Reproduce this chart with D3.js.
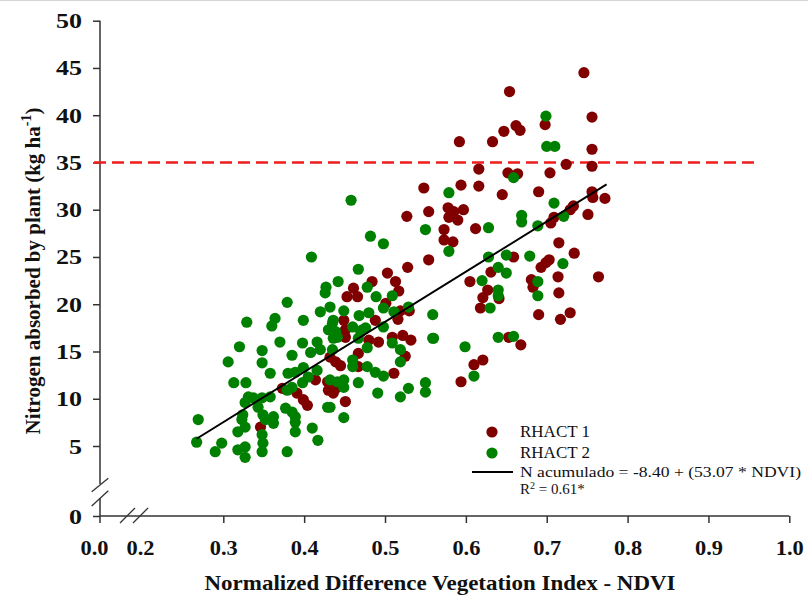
<!DOCTYPE html>
<html><head><meta charset="utf-8">
<script src="https://cdn.jsdelivr.net/npm/d3@7"></script>
<style>body{margin:0;background:#fff}svg{display:block}</style>
</head><body>
<svg id="c" width="808" height="595"></svg>
<script>
// ---- data ----
const rhact1NDVI = [0.746,0.654,0.756,0.698,0.662,0.667,0.647,0.592,0.633,0.756,0.724,0.756,0.616,0.652,0.664,0.704,0.594,0.616,0.645,0.690,0.756,0.757,0.772,0.733,0.729,0.597,0.585,0.590,0.751,0.709,0.705,0.612,0.548,0.554,0.578,0.579,0.573,0.573,0.584,0.554,0.659,0.631,0.693,0.703,0.699,0.734,0.715,0.764,0.605,0.627,0.621,0.618,0.641,0.681,0.683,0.714,0.715,0.690,0.717,0.729,0.653,0.668,0.621,0.610,0.594,0.528,0.503,0.484,0.513,0.517,0.461,0.453,0.466,0.501,0.530,0.519,0.449,0.488,0.516,0.451,0.480,0.492,0.509,0.522,0.532,0.467,0.525,0.439,0.445,0.432,0.511,0.439,0.436,0.451,0.527,0.451,0.414,0.429,0.430,0.373,0.391,0.399,0.404,0.346,0.467];
const rhact1N = [44.5,42.5,39.8,39.0,38.9,38.4,38.3,37.2,37.2,36.4,34.8,34.6,34.3,33.9,33.8,33.9,32.6,32.5,31.6,31.9,31.9,31.3,31.2,30.4,30.0,30.0,29.8,28.9,29.5,29.2,28.6,28.0,32.3,29.8,30.2,29.2,27.9,26.8,26.6,24.7,25.0,23.4,23.9,24.7,24.4,25.4,26.5,22.9,22.4,21.5,20.7,19.6,20.6,22.6,21.8,22.9,21.2,18.9,18.4,19.1,16.5,15.7,14.1,13.6,11.8,23.9,23.3,22.4,22.4,21.4,21.7,20.8,20.8,20.1,19.3,19.3,18.3,18.3,18.4,16.5,16.2,16.0,16.5,16.7,16.2,14.8,14.5,13.9,13.5,14.4,12.7,11.1,10.6,9.7,29.3,17.3,12.0,11.8,10.9,11.1,10.6,9.9,9.3,7.0,13.4];
const rhact2NDVI = [0.699,0.700,0.710,0.659,0.579,0.709,0.669,0.669,0.721,0.689,0.628,0.550,0.579,0.628,0.650,0.640,0.650,0.679,0.720,0.620,0.640,0.640,0.630,0.689,0.689,0.559,0.559,0.599,0.640,0.659,0.610,0.458,0.482,0.498,0.409,0.467,0.427,0.426,0.442,0.478,0.489,0.509,0.379,0.498,0.511,0.529,0.449,0.432,0.436,0.468,0.480,0.460,0.476,0.498,0.439,0.436,0.472,0.467,0.509,0.560,0.478,0.519,0.519,0.460,0.460,0.478,0.488,0.498,0.432,0.441,0.449,0.449,0.467,0.550,0.550,0.529,0.491,0.519,0.432,0.449,0.329,0.364,0.360,0.399,0.420,0.435,0.430,0.370,0.320,0.348,0.348,0.398,0.416,0.420,0.408,0.385,0.435,0.306,0.358,0.380,0.389,0.399,0.405,0.398,0.416,0.313,0.328,0.379,0.385,0.331,0.337,0.327,0.348,0.358,0.343,0.429,0.377,0.385,0.324,0.323,0.349,0.352,0.362,0.362,0.389,0.389,0.269,0.327,0.318,0.348,0.349,0.389,0.410,0.417,0.267,0.298,0.290,0.318,0.327,0.327,0.348,0.379,0.441,0.470];
const rhact2N = [39.9,36.7,36.7,33.4,31.8,30.7,29.4,28.7,29.3,28.3,28.1,27.9,25.6,25.0,25.2,23.9,23.3,25.1,24.3,22.5,21.5,20.9,19.6,22.4,20.9,18.9,16.4,15.5,16.5,16.6,12.4,31.0,27.2,26.4,25.0,23.7,21.8,21.2,22.4,21.8,20.8,20.9,20.2,19.6,19.2,19.7,19.3,19.7,18.3,18.8,19.1,17.6,17.5,17.6,17.1,16.4,17.3,16.4,15.9,16.4,15.4,15.2,13.9,14.1,13.4,13.4,12.8,12.4,12.0,11.8,12.0,11.2,11.7,11.7,10.7,11.1,10.6,10.2,9.1,8.0,18.1,18.5,17.7,18.3,19.2,18.0,17.3,16.0,15.5,15.1,13.8,15.9,16.0,15.2,14.9,14.6,15.2,13.9,12.7,12.7,12.8,13.3,12.3,11.7,13.0,11.7,11.7,10.9,11.2,10.2,10.1,9.6,10.1,10.2,9.1,9.1,9.0,8.6,8.3,7.8,8.3,7.8,8.1,7.4,8.1,7.5,7.8,7.0,6.5,6.2,5.3,6.5,6.9,5.6,5.4,5.3,4.4,4.6,4.9,3.8,4.4,4.4,16.5,17.1];
const seriesNames = ["RHACT 1","RHACT 2"];
const yTicks = [5,10,15,20,25,30,35,40,45,50];
const yLowTicks = [0];
const xTicks = [0.3,0.4,0.5,0.6,0.7,0.8,0.9,1.0];
const xLowTicks = [0.0,0.2];
const threshold = 35;
const regIntercept = -8.40, regSlope = 53.07;
const regDomain = [0.267, 0.774];
const eqText = "N acumulado = -8.40 + (53.07 * NDVI)";

// ---- drawing ----
const svg = d3.select("#c");
const serif = "'Liberation Serif','Times New Roman',serif";
const axisColor = "#333";
const cRed = "#800000", cGreen = "#008000";

const ox = 100, oy = 516;
const x = d3.scaleLinear().domain([0.3, 1.0]).range([223.3, 789.3]);
const y = d3.scaleLinear().domain([5, 50]).range([446, 20.7]);
const xLow = d3.scaleLinear().domain([0, 0.2]).range([94, 140]);
const yLow = d3.scaleLinear().domain([0, 1]).range([oy, oy - 10]);

svg.append("line").attr("x1",0).attr("x2",808).attr("y1",0.5).attr("y2",0.5).attr("stroke","#d4d4d4");

// y axis main
const gy = svg.append("g").attr("transform", `translate(${ox},0)`)
  .call(d3.axisLeft(y).tickValues(yTicks).tickSize(7).tickSizeOuter(0).tickFormat(d3.format("d")));
gy.select(".domain").remove();
const gy0 = svg.append("g").attr("transform", `translate(${ox},0)`)
  .call(d3.axisLeft(yLow).tickValues(yLowTicks).tickSize(7).tickSizeOuter(0).tickFormat(d3.format("d")));
gy0.select(".domain").remove();
[gy, gy0].forEach(g => {
  g.selectAll(".tick line").attr("stroke", axisColor).attr("stroke-width", 1.5);
  g.selectAll(".tick text").attr("x", null).attr("dy", "0.35em")
    .attr("transform", "translate(-18,0) scale(1.3,1)")
    .attr("font-family", serif).attr("font-weight", "bold").attr("font-size", 20).attr("fill", "#111");
});

// x axis
const gx = svg.append("g").attr("transform", `translate(0,${oy})`)
  .call(d3.axisBottom(x).tickValues(xTicks).tickSize(7).tickSizeOuter(0).tickFormat(d3.format(".1f")));
gx.select(".domain").remove();
gx.selectAll(".tick line").attr("stroke", axisColor).attr("stroke-width", 1.5);
gx.selectAll(".tick text").attr("y", null).attr("dy", null)
  .attr("transform", "translate(0,39) scale(1.12,1)")
  .attr("font-family", serif).attr("font-weight", "bold").attr("font-size", 20).attr("fill", "#111");
const gxl = svg.append("g").attr("transform", `translate(0,${oy})`)
  .call(d3.axisBottom(xLow).tickValues(xLowTicks).tickSize(0).tickSizeOuter(0).tickFormat(d3.format(".1f")));
gxl.select(".domain").remove();
gxl.selectAll(".tick text").attr("y", null).attr("dy", null)
  .attr("transform", "translate(0,39) scale(1.12,1)")
  .attr("font-family", serif).attr("font-weight", "bold").attr("font-size", 20).attr("fill", "#111");
svg.append("line").attr("x1", ox).attr("x2", ox).attr("y1", oy).attr("y2", oy + 7).attr("stroke", axisColor).attr("stroke-width", 1.5);

// axis lines with breaks
const al = (x1,y1,x2,y2,w=1.5) => svg.append("line").attr("x1",x1).attr("y1",y1).attr("x2",x2).attr("y2",y2).attr("stroke",axisColor).attr("stroke-width",w);
al(ox, y(50), ox, 484);
al(ox, 498, ox, oy);
al(91.7, 491.7, 108.3, 478.3, 1.3);
al(91.7, 506, 108.3, 490.7, 1.3);
al(ox, oy, x(1.0), oy);
al(120, 523, 135, 508, 1.3);
al(133, 523, 148, 508, 1.3);

// threshold line
svg.append("line").attr("x1", 94).attr("x2", 755).attr("y1", y(threshold)).attr("y2", y(threshold))
  .attr("stroke", "#ee1c1c").attr("stroke-width", 2.5).attr("stroke-dasharray", "12,6");

// points
const pts1 = rhact1NDVI.map((v,i)=>[v, rhact1N[i]]);
const pts2 = rhact2NDVI.map((v,i)=>[v, rhact2N[i]]);
svg.append("g").selectAll("circle").data(pts1).join("circle")
  .attr("cx", d=>x(d[0])).attr("cy", d=>y(d[1])).attr("r", 5.6).attr("fill", cRed);
svg.append("g").selectAll("circle").data(pts2).join("circle")
  .attr("cx", d=>x(d[0])).attr("cy", d=>y(d[1])).attr("r", 5.6).attr("fill", cGreen);

// regression
const line = d3.line().x(d=>x(d)).y(d=>y(regIntercept + regSlope*d));
svg.append("path").attr("d", line(regDomain)).attr("stroke", "#000").attr("stroke-width", 2).attr("fill", "none");

// legend
const lg = svg.append("g").attr("font-family", serif).attr("fill", "#111");
lg.append("circle").attr("cx", 492).attr("cy", 432).attr("r", 5.6).attr("fill", cRed);
lg.append("circle").attr("cx", 492).attr("cy", 453).attr("r", 5.6).attr("fill", cGreen);
lg.append("text").attr("x", 520).attr("y", 437).attr("font-size", 17).text(seriesNames[0]);
lg.append("text").attr("x", 520).attr("y", 458).attr("font-size", 17).text(seriesNames[1]);
lg.append("line").attr("x1", 472).attr("x2", 513).attr("y1", 472).attr("y2", 472).attr("stroke", "#000").attr("stroke-width", 2);
lg.append("text").attr("x", 520).attr("y", 477).attr("font-size", 15)
  .attr("textLength", 281).attr("lengthAdjust", "spacingAndGlyphs").text(eqText);
const r2 = lg.append("text").attr("x", 520).attr("y", 494).attr("font-size", 15);
r2.append("tspan").text("R");
r2.append("tspan").attr("font-size", 10).attr("dy", -5).text("2");
r2.append("tspan").attr("dy", 5).text(" = 0.61*");

// axis titles
svg.append("text").attr("x", 440).attr("y", 590).attr("text-anchor", "middle")
  .attr("font-family", serif).attr("font-weight", "bold").attr("font-size", 21).attr("fill", "#111")
  .attr("textLength", 471).attr("lengthAdjust", "spacingAndGlyphs")
  .text("Normalized Difference Vegetation Index - NDVI");
const yt = svg.append("text").attr("transform", "translate(40,271) rotate(-90)").attr("text-anchor", "middle")
  .attr("font-family", serif).attr("font-weight", "bold").attr("font-size", 21).attr("fill", "#111");
yt.append("tspan").text("Nitrogen absorbed by plant (kg ha");
yt.append("tspan").attr("font-size", 14).attr("dy", -9).text("-1");
yt.append("tspan").attr("dy", 9).text(")");
</script>
</body></html>
